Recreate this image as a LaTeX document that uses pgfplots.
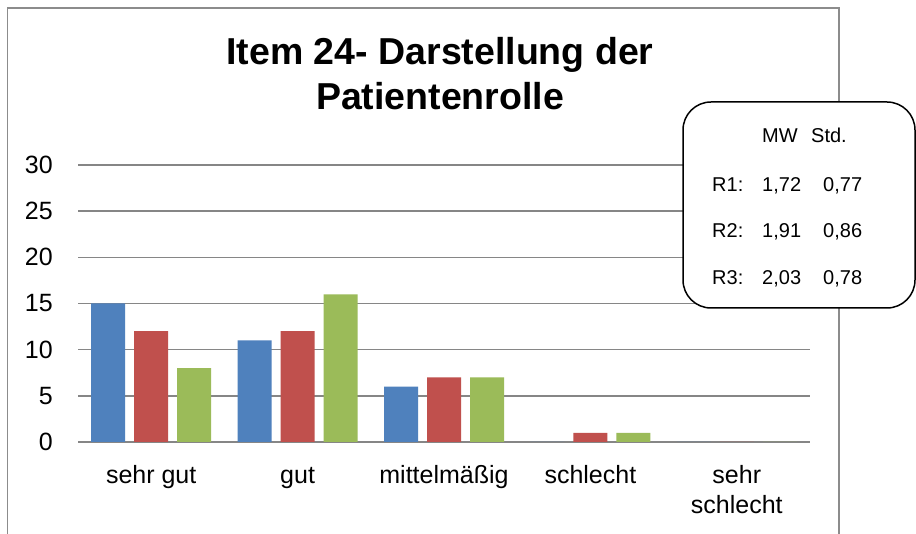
\documentclass[border=0pt]{standalone}
\usepackage{fontspec}
\setmainfont{Liberation Sans}
\usepackage{pgfplots}
\pgfplotsset{compat=1.18}
\definecolor{sblue}{HTML}{4F81BD}
\definecolor{sred}{HTML}{C0504D}
\definecolor{sgreen}{HTML}{9BBB59}
\definecolor{gridc}{HTML}{868686}
\definecolor{framec}{HTML}{8C8C8C}
\newcommand{\st}{\rule{0pt}{18pt}}
\begin{document}
\begin{tikzpicture}[x=1pt,y=1pt]
\clip (0,0) rectangle (916,534);
\fill[white] (0,0) rectangle (916,534);
\draw[framec, line width=1.5pt] (7.5,-5) -- (7.5,526) -- (839,526) -- (839,-5);
\begin{axis}[
  at={(78pt,92pt)}, anchor=south west,
  scale only axis, width=732pt, height=277pt,
  ybar=9pt, bar width=34pt,
  xmin=-0.5, xmax=4.5, ymin=0, ymax=30,
  ytick={0,5,...,30},
  xtick={0,1,2,3,4},
  xticklabels={\st sehr gut, \st gut, \st mittelmäßig, \st schlecht, {\st sehr\\schlecht}},
  ymajorgrids, grid style={gridc, line width=1.5pt},
  axis line style={draw=none},
  major tick length=0pt,
  /pgf/number format/assume math mode=true,
  tick label style={font=\fontsize{25}{30}\selectfont},
  yticklabel style={inner sep=0pt, xshift=-25pt},
  xticklabel style={align=center, inner sep=0pt, anchor=north, yshift=-23pt},
]
\addplot[fill=sblue, draw=none] coordinates {(0,15) (1,11) (2,6) (3,0) (4,0)};
\addplot[fill=sred, draw=none] coordinates {(0,12) (1,12) (2,7) (3,1) (4,0)};
\addplot[fill=sgreen, draw=none] coordinates {(0,8) (1,16) (2,7) (3,1) (4,0)};
\end{axis}
\node[anchor=base, inner sep=0pt, font=\fontsize{37.5}{44}\bfseries\selectfont] at (440,469) {Item 24- Darstellung der};
\node[anchor=base, inner sep=0pt, font=\fontsize{37.5}{44}\bfseries\selectfont] at (440,424) {Patientenrolle};
\draw[black, line width=1.5pt, fill=white, rounded corners=28pt] (683,226) rectangle (915,432);
\begin{scope}[every node/.style={anchor=base west, inner sep=0pt, font=\fontsize{20}{24}\selectfont}]
\node at (762,391) {MW};
\node at (811,391) {Std.};
\node at (712,342) {R1:};
\node at (762,342) {1,72};
\node at (823,342) {0,77};
\node at (712,296) {R2:};
\node at (762,296) {1,91};
\node at (823,296) {0,86};
\node at (712,249) {R3:};
\node at (762,249) {2,03};
\node at (823,249) {0,78};
\end{scope}
\end{tikzpicture}
\end{document}
